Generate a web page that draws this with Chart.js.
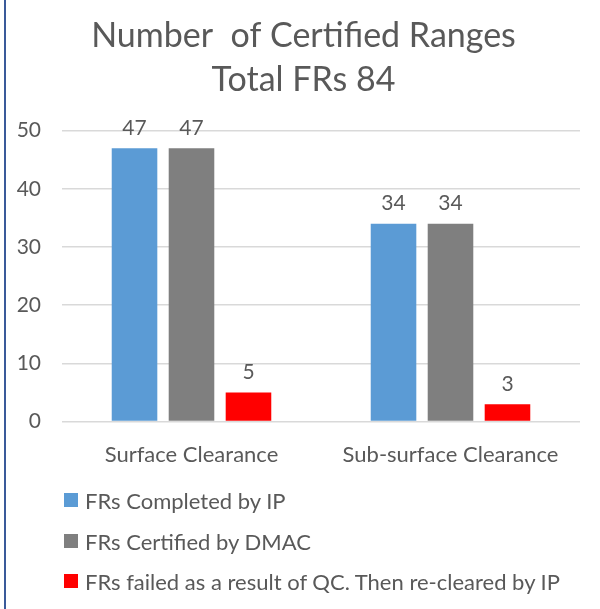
<!DOCTYPE html>
<html>
<head>
<meta charset="utf-8">
<script src="https://cdn.jsdelivr.net/npm/chart.js@4"></script>
<style>
  body { margin: 0; background: #fff; }
  #frame { position: relative; width: 600px; height: 609px; overflow: hidden; }
  #frame:before { content: ''; position: absolute; left: 4px; top: 0; bottom: 0; width: 2px; background: #3a5a9a; }
  #wrap { position: absolute; left: 0; top: 0; width: 600px; height: 488px; }
  #legend { position: absolute; left: 64px; top: 480px; font-family: Lato, "Open Sans", sans-serif; font-size: 22px; color: #595959; }
  #legend div { height: 40.7px; display: flex; align-items: center; white-space: nowrap; }
  #legend span.box { display: inline-block; width: 14px; height: 14px; margin-right: 7px; margin-top: -1px; }
</style>
</head>
<body>
<div id="frame">
  <div id="wrap"><canvas id="chart"></canvas></div>
  <div id="legend"></div>
</div>
<script>
const categories = ['Surface Clearance', 'Sub-surface Clearance'];
const completedByIP = [47, 34];
const certifiedByDMAC = [47, 34];
const failedQC = [5, 3];
const seriesNames = ['FRs Completed by IP', 'FRs Certified by DMAC', 'FRs failed as a result of QC. Then re-cleared by IP'];
const seriesColors = ['#5b9bd5', '#7f7f7f', '#ff0000'];
const yTicks = [0, 10, 20, 30, 40, 50];

const textColor = '#595959';
const fontFamily = 'Lato, "Open Sans", sans-serif';

// draws value above each bar
const barValues = {
  id: 'barValues',
  afterDatasetsDraw(chart) {
    const ctx = chart.ctx;
    ctx.save();
    ctx.font = '21px ' + fontFamily;
    ctx.fillStyle = textColor;
    ctx.textAlign = 'center';
    ctx.textBaseline = 'alphabetic';
    chart.data.datasets.forEach((ds, i) => {
      chart.getDatasetMeta(i).data.forEach((bar, j) => {
        ctx.fillText(ds.data[j], bar.x, bar.y - 13.5);
      });
    });
    ctx.restore();
  }
};

// y labels stick out left of the narrow axis box, so widen its clip area
const yLabelRoom = {
  id: 'yLabelRoom',
  afterLayout(chart) { chart.scales.y.left = 0; }
};

// html legend, one series per row
const htmlLegend = {
  id: 'htmlLegend',
  afterUpdate(chart) {
    const box = document.getElementById('legend');
    box.innerHTML = '';
    chart.data.datasets.forEach(ds => {
      const row = document.createElement('div');
      const sw = document.createElement('span');
      sw.className = 'box';
      sw.style.background = ds.backgroundColor;
      row.appendChild(sw);
      row.appendChild(document.createTextNode(ds.label));
      box.appendChild(row);
    });
  }
};

const datasets = [completedByIP, certifiedByDMAC, failedQC].map((vals, i) => ({
  label: seriesNames[i],
  data: vals,
  backgroundColor: seriesColors[i],
  barPercentage: 0.8,
  categoryPercentage: 0.66
}));

new Chart(document.getElementById('chart'), {
  type: 'bar',
  data: { labels: categories, datasets: datasets },
  options: {
    responsive: true,
    maintainAspectRatio: false,
    animation: false,
    layout: { padding: { left: 27, right: 20, top: 0, bottom: 0 } },
    plugins: {
      legend: { display: false },
      tooltip: { enabled: false },
      title: {
        display: true,
        text: ['Number  of Certified Ranges', 'Total FRs 84'],
        color: textColor,
        font: { family: fontFamily, size: 34, weight: 'normal', lineHeight: 1.29 },
        padding: { top: 14.5, bottom: 28.5 }
      }
    },
    scales: {
      x: {
        grid: { display: false, drawTicks: false },
        border: { display: false },
        ticks: { color: textColor, font: { family: fontFamily, size: 22 }, padding: 20 },
        afterFit(scale) { scale.paddingLeft = 0; scale.paddingRight = 0; }
      },
      y: {
        min: 0,
        max: 50,
        afterBuildTicks(axis) { axis.ticks = yTicks.map(v => ({ value: v })); },
        afterFit(scale) { scale.width = 35; },
        grid: { color: '#d9d9d9', lineWidth: 1.5, drawTicks: false },
        border: { display: false },
        ticks: { color: textColor, font: { family: fontFamily, size: 21 }, padding: 21 }
      }
    }
  },
  plugins: [barValues, yLabelRoom, htmlLegend]
});
</script>
</body>
</html>
